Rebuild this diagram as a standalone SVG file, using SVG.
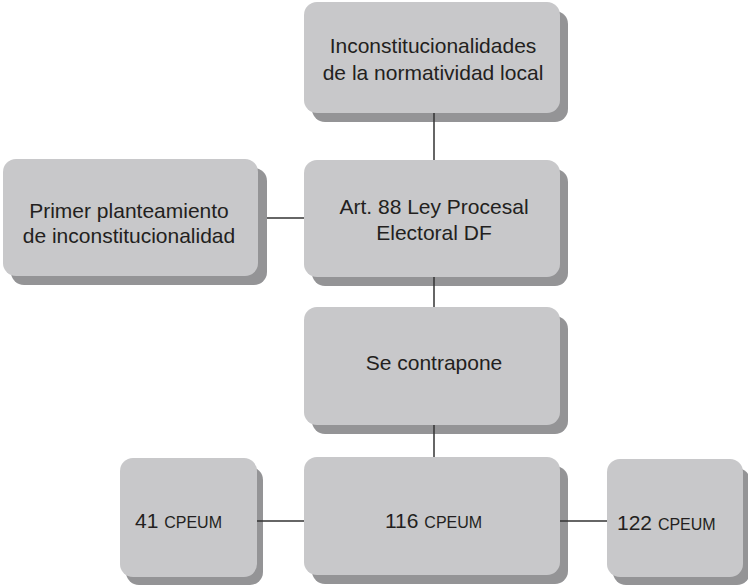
<svg xmlns="http://www.w3.org/2000/svg" width="748" height="585" viewBox="0 0 748 585">
<style>
.sh{fill:#949496}
.bx{fill:#c8c8ca}
.t{font-family:"Liberation Sans",Arial,sans-serif;font-size:21px;fill:#231f20;text-anchor:middle}
.ts{font-family:"Liberation Sans",Arial,sans-serif;font-size:21px;fill:#231f20}
.sc{font-size:16px}
.ln{stroke:#333;stroke-width:1.5;fill:none}
</style>
<rect width="748" height="585" fill="#fff"/>
<g id="n1">
<rect class="sh" x="312" y="11" width="256" height="111" rx="13"/>
<rect class="bx" x="304" y="2" width="256" height="111" rx="13"/>
<text class="t" x="433" y="53">Inconstitucionalidades</text>
<text class="t" x="433" y="80">de la normatividad local</text>
</g>
<g id="n2">
<rect class="sh" x="11" y="168" width="256" height="117" rx="13"/>
<rect class="bx" x="3" y="159" width="255" height="117" rx="13"/>
<text class="t" x="129" y="218">Primer planteamiento</text>
<text class="t" x="129" y="243">de inconstitucionalidad</text>
</g>
<g id="n3">
<rect class="sh" x="312" y="169" width="256" height="117" rx="13"/>
<rect class="bx" x="304" y="160" width="256" height="117" rx="13"/>
<text class="t" x="434" y="214">Art. 88 Ley Procesal</text>
<text class="t" x="434" y="240">Electoral DF</text>
</g>
<g id="n4">
<rect class="sh" x="312" y="316" width="256" height="118" rx="13"/>
<rect class="bx" x="304" y="307" width="256" height="118" rx="13"/>
<text class="t" x="434" y="370">Se contrapone</text>
</g>
<g id="n5">
<rect class="sh" x="126" y="467" width="137" height="118" rx="13"/>
<rect class="bx" x="120" y="458" width="137" height="119" rx="13"/>
<text class="ts" x="135" y="528">41 <tspan class="sc">CPEUM</tspan></text>
</g>
<g id="n6">
<rect class="sh" x="312" y="466" width="256" height="118" rx="13"/>
<rect class="bx" x="304" y="457" width="256" height="118" rx="13"/>
<text class="ts" x="385" y="528">116 <tspan class="sc">CPEUM</tspan></text>
</g>
<g id="n7">
<rect class="sh" x="613" y="468" width="137" height="117" rx="13"/>
<rect class="bx" x="607" y="459" width="136" height="118" rx="13"/>
<text class="ts" x="617" y="530">122 <tspan class="sc">CPEUM</tspan></text>
</g>
<g id="connectors">
<line class="ln" x1="434" y1="113" x2="434" y2="160"/>
<line class="ln" x1="267" y1="218" x2="304" y2="218"/>
<line class="ln" x1="434" y1="277" x2="434" y2="307"/>
<line class="ln" x1="434" y1="425" x2="434" y2="457"/>
<line class="ln" x1="257" y1="521" x2="304" y2="521"/>
<line class="ln" x1="560" y1="521" x2="607" y2="521"/>
</g>
</svg>
